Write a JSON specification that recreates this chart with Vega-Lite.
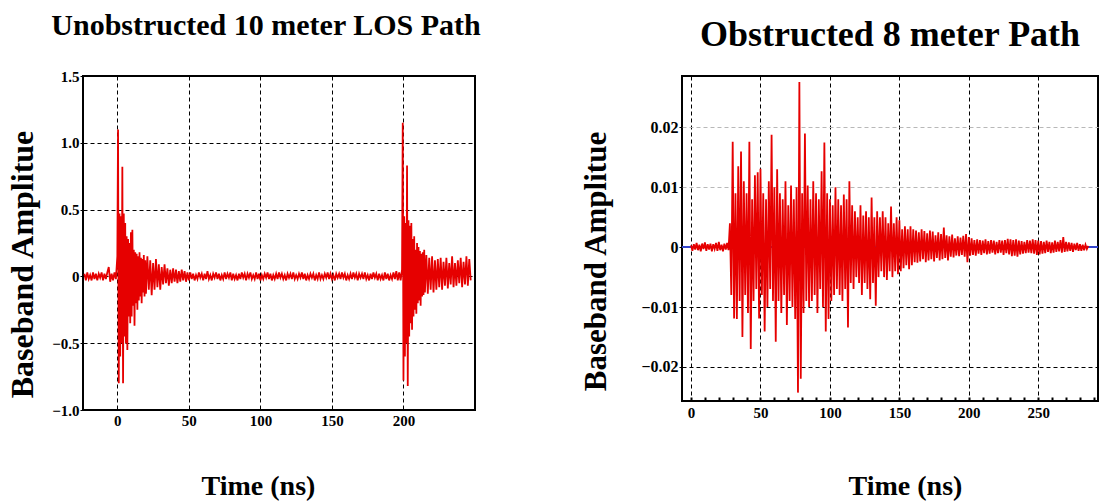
{
  "$schema": "https://vega.github.io/schema/vega-lite/v6.json",
  "background": "white",
  "padding": {"left": 5, "top": 10, "right": 0, "bottom": 0},
  "config": {
    "view": {"stroke": "black", "strokeWidth": 2},
    "font": "Liberation Serif",
    "axis": {
      "labelFont": "Liberation Serif", "labelFontWeight": "bold", "labelFontSize": 15, "labelColor": "black",
      "titleFont": "Liberation Serif", "titleFontWeight": "bold", "titleColor": "black",
      "gridColor": "black", "gridDash": [4, 3], "gridOpacity": 1, "gridWidth": 1,
      "domain": false, "tickColor": "black", "tickSize": 3, "labelPadding": 1
    },
    "title": {"font": "Liberation Serif", "fontWeight": "bold", "color": "black"}
  },
  "bounds": "flush",
  "spacing": 207,
  "hconcat": [
    {
      "title": {"text": "Unobstructed 10 meter LOS Path", "fontSize": 30, "offset": 28, "frame": "group", "dx": -13},
      "width": 392,
      "height": 334,
      "data": {"values": [
        {"t":-23,"v":0.02},{"t":-22,"v":-0.03},{"t":-21,"v":0.03},{"t":-20,"v":-0.02},{"t":-19,"v":0.01},{"t":-18,"v":-0.03},{"t":-17,"v":0.03},{"t":-16,"v":-0.02},{"t":-15,"v":0.02},{"t":-14,"v":-0.03},{"t":-13,"v":0.02},{"t":-12,"v":-0.01},{"t":-11,"v":0.03},{"t":-10,"v":-0.03},{"t":-9,"v":0.02},{"t":-8,"v":-0.02},{"t":-7,"v":0.03},{"t":-6,"v":0.07},{"t":-5,"v":-0.04},{"t":-4,"v":0.02},{"t":-3,"v":-0.03},{"t":-2,"v":0.03},{"t":-1,"v":-0.02},
        {"t":0,"v":0.15},{"t":0.5,"v":1.1},{"t":1,"v":-0.8},{"t":1.5,"v":0.47},{"t":2,"v":-0.6},{"t":2.5,"v":0.45},{"t":3,"v":-0.5},{"t":3.5,"v":0.82},{"t":4,"v":-0.8},{"t":4.5,"v":0.47},{"t":5,"v":-0.45},{"t":5.5,"v":0.4},{"t":6,"v":-0.5},{"t":6.5,"v":0.3},{"t":7,"v":-0.55},{"t":7.5,"v":0.28},{"t":8,"v":-0.3},{"t":8.5,"v":0.25},{"t":9,"v":-0.35},{"t":9.5,"v":0.33},{"t":10,"v":-0.3},{"t":10.5,"v":0.35},{"t":11,"v":-0.22},{"t":11.5,"v":0.2},{"t":12,"v":-0.37},{"t":12.5,"v":0.18},{"t":13,"v":-0.2},{"t":13.5,"v":0.17},{"t":14,"v":-0.25},{"t":14.5,"v":0.15},{"t":15,"v":-0.18},{"t":15.5,"v":0.18},{"t":16,"v":-0.15},{"t":16.5,"v":0.14},{"t":17,"v":-0.2},{"t":17.5,"v":0.13},{"t":18,"v":-0.12},{"t":18.5,"v":0.16},{"t":19,"v":-0.15},{"t":19.5,"v":0.12},{"t":20,"v":-0.13},
        {"t":21,"v":0.15},{"t":22,"v":-0.1},{"t":23,"v":0.12},{"t":24,"v":-0.14},{"t":25,"v":0.1},{"t":26,"v":-0.1},{"t":27,"v":0.13},{"t":28,"v":-0.08},{"t":29,"v":0.09},{"t":30,"v":-0.1},{"t":31,"v":0.07},{"t":32,"v":-0.06},{"t":33,"v":0.09},{"t":34,"v":-0.05},{"t":35,"v":0.06},{"t":36,"v":-0.07},{"t":37,"v":0.05},{"t":38,"v":-0.05},{"t":39,"v":0.06},{"t":40,"v":-0.04},{"t":41,"v":0.05},{"t":42,"v":-0.05},{"t":43,"v":0.04},{"t":44,"v":-0.04},{"t":45,"v":0.05},{"t":46,"v":-0.03},{"t":47,"v":0.04},{"t":48,"v":-0.04},{"t":49,"v":0.03},{"t":50,"v":-0.03},
        {"t":51,"v":0.03},{"t":52,"v":-0.02},{"t":53,"v":0.02},{"t":54,"v":-0.03},{"t":55,"v":0.01},{"t":56,"v":-0.02},{"t":57,"v":0.03},{"t":58,"v":-0.01},{"t":59,"v":0.02},{"t":60,"v":-0.03},{"t":61,"v":0.02},{"t":62,"v":-0.02},{"t":63,"v":0.04},{"t":64,"v":-0.02},{"t":65,"v":0.01},{"t":66,"v":-0.03},{"t":67,"v":0.02},{"t":68,"v":-0.01},{"t":69,"v":0.03},{"t":70,"v":-0.02},{"t":71,"v":0.02},{"t":72,"v":-0.03},{"t":73,"v":0.01},{"t":74,"v":-0.02},{"t":75,"v":0.03},{"t":76,"v":-0.02},{"t":77,"v":0.02},{"t":78,"v":-0.01},{"t":79,"v":0.03},{"t":80,"v":-0.03},
        {"t":81,"v":0.02},{"t":82,"v":-0.02},{"t":83,"v":0.01},{"t":84,"v":-0.03},{"t":85,"v":0.02},{"t":86,"v":-0.02},{"t":87,"v":0.03},{"t":88,"v":-0.01},{"t":89,"v":0.02},{"t":90,"v":-0.03},{"t":91,"v":0.02},{"t":92,"v":-0.01},{"t":93,"v":0.03},{"t":94,"v":-0.02},{"t":95,"v":0.01},{"t":96,"v":-0.02},{"t":97,"v":0.03},{"t":98,"v":-0.02},{"t":99,"v":0.02},{"t":100,"v":-0.03},{"t":101,"v":0.01},{"t":102,"v":-0.02},{"t":103,"v":0.02},{"t":104,"v":-0.01},{"t":105,"v":0.03},{"t":106,"v":-0.02},{"t":107,"v":0.02},{"t":108,"v":-0.03},{"t":109,"v":0.01},{"t":110,"v":-0.02},
        {"t":111,"v":0.02},{"t":112,"v":-0.02},{"t":113,"v":0.03},{"t":114,"v":-0.01},{"t":115,"v":0.02},{"t":116,"v":-0.02},{"t":117,"v":0.01},{"t":118,"v":-0.03},{"t":119,"v":0.02},{"t":120,"v":-0.01},{"t":121,"v":0.02},{"t":122,"v":-0.02},{"t":123,"v":0.03},{"t":124,"v":-0.02},{"t":125,"v":0.01},{"t":126,"v":-0.02},{"t":127,"v":0.02},{"t":128,"v":-0.01},{"t":129,"v":0.03},{"t":130,"v":-0.02},{"t":131,"v":0.02},{"t":132,"v":-0.03},{"t":133,"v":0.01},{"t":134,"v":-0.02},{"t":135,"v":0.02},{"t":136,"v":-0.01},{"t":137,"v":0.02},{"t":138,"v":-0.03},{"t":139,"v":0.01},{"t":140,"v":-0.02},
        {"t":141,"v":0.03},{"t":142,"v":-0.02},{"t":143,"v":0.01},{"t":144,"v":-0.02},{"t":145,"v":0.02},{"t":146,"v":-0.01},{"t":147,"v":0.03},{"t":148,"v":-0.02},{"t":149,"v":0.02},{"t":150,"v":-0.02},{"t":151,"v":0.01},{"t":152,"v":-0.03},{"t":153,"v":0.02},{"t":154,"v":-0.01},{"t":155,"v":0.02},{"t":156,"v":-0.02},{"t":157,"v":0.03},{"t":158,"v":-0.01},{"t":159,"v":0.02},{"t":160,"v":-0.03},{"t":161,"v":0.01},{"t":162,"v":-0.02},{"t":163,"v":0.02},{"t":164,"v":-0.02},{"t":165,"v":0.03},{"t":166,"v":-0.01},{"t":167,"v":0.02},{"t":168,"v":-0.03},{"t":169,"v":0.02},{"t":170,"v":-0.01},
        {"t":171,"v":0.02},{"t":172,"v":-0.02},{"t":173,"v":0.03},{"t":174,"v":-0.02},{"t":175,"v":0.01},{"t":176,"v":-0.03},{"t":177,"v":0.02},{"t":178,"v":-0.02},{"t":179,"v":0.03},{"t":180,"v":-0.01},{"t":181,"v":0.02},{"t":182,"v":-0.03},{"t":183,"v":0.02},{"t":184,"v":-0.02},{"t":185,"v":0.01},{"t":186,"v":-0.03},{"t":187,"v":0.03},{"t":188,"v":-0.02},{"t":189,"v":0.02},{"t":190,"v":-0.03},{"t":191,"v":0.01},{"t":192,"v":-0.02},{"t":193,"v":0.03},{"t":194,"v":-0.02},{"t":195,"v":0.04},{"t":196,"v":-0.03},{"t":197,"v":0.03},{"t":198,"v":-0.03},{"t":199,"v":0.05},
        {"t":199.5,"v":1.15},{"t":200,"v":-0.78},{"t":200.5,"v":0.45},{"t":201,"v":-0.6},{"t":201.5,"v":0.4},{"t":202,"v":-0.5},{"t":202.5,"v":0.83},{"t":203,"v":-0.82},{"t":203.5,"v":0.42},{"t":204,"v":-0.45},{"t":204.5,"v":0.38},{"t":205,"v":-0.35},{"t":205.5,"v":0.4},{"t":206,"v":-0.4},{"t":206.5,"v":0.28},{"t":207,"v":-0.3},{"t":207.5,"v":0.3},{"t":208,"v":-0.25},{"t":208.5,"v":0.2},{"t":209,"v":-0.28},{"t":209.5,"v":0.25},{"t":210,"v":-0.2},{"t":210.5,"v":0.22},{"t":211,"v":-0.18},{"t":211.5,"v":0.19},{"t":212,"v":-0.22},{"t":212.5,"v":0.17},{"t":213,"v":-0.15},{"t":213.5,"v":0.18},{"t":214,"v":-0.14},{"t":214.5,"v":0.2},{"t":215,"v":-0.12},
        {"t":216,"v":0.16},{"t":217,"v":-0.13},{"t":218,"v":0.14},{"t":219,"v":-0.1},{"t":220,"v":0.15},{"t":221,"v":-0.12},{"t":222,"v":0.12},{"t":223,"v":-0.1},{"t":224,"v":0.13},{"t":225,"v":-0.08},{"t":226,"v":0.14},{"t":227,"v":-0.1},{"t":228,"v":0.11},{"t":229,"v":-0.07},{"t":230,"v":0.14},{"t":231,"v":-0.09},{"t":232,"v":0.1},{"t":233,"v":-0.06},{"t":234,"v":0.15},{"t":235,"v":-0.08},{"t":236,"v":0.1},{"t":237,"v":-0.07},{"t":238,"v":0.12},{"t":239,"v":-0.05},{"t":240,"v":0.14},{"t":241,"v":-0.08},{"t":242,"v":0.11},{"t":243,"v":-0.06},{"t":244,"v":0.15},{"t":245,"v":-0.07},{"t":246,"v":0.13},{"t":247,"v":-0.03}
      ]},
      "mark": {"type": "line", "color": "#e60000", "strokeWidth": 1.8, "clip": true},
      "encoding": {
        "x": {"field": "t", "type": "quantitative", "scale": {"domain": [-24, 250], "nice": false, "zero": false},
              "axis": {"values": [0, 50, 100, 150, 200], "title": "Time (ns)", "titleFontSize": 28, "titlePadding": 44, "titleX": 175, "labelPadding": 3, "tickSize": 0}},
        "y": {"field": "v", "type": "quantitative", "scale": {"domain": [-1, 1.5], "nice": false},
              "axis": {"values": [-1, -0.5, 0, 0.5, 1, 1.5], "labelExpr": "datum.value == 0 ? '0' : format(datum.value, '.1f')", "title": "Baseband Amplitue", "titleFontSize": 32, "titlePadding": 12, "titleY": 188}}
      }
    },
    {
      "title": {"text": "Obstructed 8 meter Path", "fontSize": 36, "offset": 22, "frame": "group"},
      "width": 416,
      "height": 325,
      "data": {"values": [
        {"t":0,"v":0.0003},{"t":1,"v":-0.0006},{"t":2,"v":0.0005},{"t":3,"v":-0.0004},{"t":4,"v":0.0007},{"t":5,"v":-0.0005},{"t":6,"v":0.0004},{"t":7,"v":-0.0007},{"t":8,"v":0.0006},{"t":9,"v":-0.0003},{"t":10,"v":0.0008},{"t":11,"v":-0.0006},{"t":12,"v":0.0005},{"t":13,"v":-0.0004},{"t":14,"v":0.0006},{"t":15,"v":-0.0007},{"t":16,"v":0.0005},{"t":17,"v":-0.0003},{"t":18,"v":0.0007},{"t":19,"v":-0.0006},{"t":20,"v":0.0009},{"t":21,"v":-0.0005},{"t":22,"v":0.0004},{"t":23,"v":-0.0007},{"t":24,"v":0.0006},{"t":25,"v":-0.0004},{"t":26,"v":0.0007},{"t":27,"v":-0.0005},
        {"t":28,"v":0.004},{"t":29,"v":-0.008},{"t":30,"v":0.0176},{"t":31,"v":-0.0119},{"t":32,"v":0.009},{"t":33,"v":-0.012},{"t":34,"v":0.0135},{"t":35,"v":-0.009},{"t":36,"v":0.016},{"t":37,"v":-0.015},{"t":38,"v":0.011},{"t":39,"v":-0.008},{"t":40,"v":0.009},{"t":41,"v":-0.011},{"t":42,"v":0.0176},{"t":43,"v":-0.017},{"t":44,"v":0.008},{"t":45,"v":-0.009},{"t":46,"v":0.012},{"t":47,"v":-0.007},{"t":48,"v":0.0125},{"t":49,"v":-0.0119},{"t":50,"v":0.0131},{"t":51,"v":-0.008},{"t":52,"v":0.009},{"t":53,"v":-0.0141},{"t":54,"v":0.008},{"t":55,"v":-0.01},{"t":56,"v":0.011},{"t":57,"v":-0.007},
        {"t":58,"v":0.0188},{"t":59,"v":-0.009},{"t":60,"v":0.01},{"t":61,"v":-0.0158},{"t":62,"v":0.013},{"t":63,"v":-0.009},{"t":64,"v":0.009},{"t":65,"v":-0.011},{"t":66,"v":0.008},{"t":67,"v":-0.008},{"t":68,"v":0.011},{"t":69,"v":-0.013},{"t":70,"v":0.007},{"t":71,"v":-0.009},{"t":72,"v":0.0103},{"t":73,"v":-0.01},{"t":74,"v":0.008},{"t":75,"v":-0.012},{"t":76,"v":0.01},{"t":77,"v":-0.0243},{"t":78,"v":0.0276},{"t":79,"v":-0.022},{"t":80,"v":0.009},{"t":81,"v":-0.011},{"t":82,"v":0.019},{"t":83,"v":-0.009},{"t":84,"v":0.0103},{"t":85,"v":-0.01},{"t":86,"v":0.008},{"t":87,"v":-0.009},
        {"t":88,"v":0.011},{"t":89,"v":-0.008},{"t":90,"v":0.009},{"t":91,"v":-0.011},{"t":92,"v":0.008},{"t":93,"v":-0.007},{"t":94,"v":0.0127},{"t":95,"v":-0.01},{"t":96,"v":0.0175},{"t":97,"v":-0.0141},{"t":98,"v":0.009},{"t":99,"v":-0.012},{"t":100,"v":0.008},{"t":101,"v":-0.009},{"t":102,"v":0.007},{"t":103,"v":-0.008},{"t":104,"v":0.01},{"t":105,"v":-0.007},{"t":106,"v":0.008},{"t":107,"v":-0.008},{"t":108,"v":0.007},{"t":109,"v":-0.009},{"t":110,"v":0.0088},{"t":111,"v":-0.007},{"t":112,"v":0.008},{"t":113,"v":-0.0134},{"t":114,"v":0.011},{"t":115,"v":-0.006},{"t":116,"v":0.007},{"t":117,"v":-0.007},
        {"t":118,"v":0.006},{"t":119,"v":-0.005},{"t":120,"v":0.005},{"t":121,"v":-0.006},{"t":122,"v":0.007},{"t":123,"v":-0.008},{"t":124,"v":0.0053},{"t":125,"v":-0.006},{"t":126,"v":0.006},{"t":127,"v":-0.007},{"t":128,"v":0.005},{"t":129,"v":-0.0087},{"t":130,"v":0.0083},{"t":131,"v":-0.006},{"t":132,"v":0.005},{"t":133,"v":-0.0098},{"t":134,"v":0.006},{"t":135,"v":-0.005},{"t":136,"v":0.005},{"t":137,"v":-0.004},{"t":138,"v":0.006},{"t":139,"v":-0.005},{"t":140,"v":0.005},{"t":141,"v":-0.0055},{"t":142,"v":0.004},{"t":143,"v":-0.004},{"t":144,"v":0.0068},{"t":145,"v":-0.005},{"t":146,"v":0.004},{"t":147,"v":-0.004},
        {"t":148,"v":0.005},{"t":149,"v":-0.0045},{"t":150,"v":0.0045},{"t":151,"v":-0.004},{"t":152,"v":0.003},{"t":153,"v":-0.0035},{"t":154,"v":0.0035},{"t":155,"v":-0.003},{"t":156,"v":0.003},{"t":157,"v":-0.0037},{"t":158,"v":0.0035},{"t":159,"v":-0.003},{"t":160,"v":0.003},{"t":161,"v":-0.0025},{"t":162,"v":0.0028},{"t":163,"v":-0.0026},{"t":164,"v":0.0025},{"t":165,"v":-0.0024},{"t":166,"v":0.003},{"t":167,"v":-0.002},{"t":168,"v":0.0027},{"t":169,"v":-0.0025},{"t":170,"v":0.0023},{"t":171,"v":-0.0022},{"t":172,"v":0.0028},{"t":173,"v":-0.002},{"t":174,"v":0.0026},{"t":175,"v":-0.0024},{"t":176,"v":0.002},{"t":177,"v":-0.0018},
        {"t":178,"v":0.0025},{"t":179,"v":-0.0022},{"t":180,"v":0.0022},{"t":181,"v":-0.002},{"t":182,"v":0.0033},{"t":183,"v":-0.0018},{"t":184,"v":0.002},{"t":185,"v":-0.0022},{"t":186,"v":0.0018},{"t":187,"v":-0.0016},{"t":188,"v":0.0021},{"t":189,"v":-0.0017},{"t":190,"v":0.0015},{"t":191,"v":-0.0014},{"t":192,"v":0.0018},{"t":193,"v":-0.0015},{"t":194,"v":0.0016},{"t":195,"v":-0.0013},{"t":196,"v":0.0019},{"t":197,"v":-0.0016},{"t":198,"v":0.0022},{"t":199,"v":-0.0025},{"t":200,"v":0.0017},{"t":201,"v":-0.0014},{"t":202,"v":0.0015},{"t":203,"v":-0.0013},{"t":204,"v":0.0012},{"t":205,"v":-0.0014},{"t":206,"v":0.0013},{"t":207,"v":-0.0011},
        {"t":208,"v":0.0012},{"t":209,"v":-0.0013},{"t":210,"v":0.0011},{"t":211,"v":-0.001},{"t":212,"v":0.0013},{"t":213,"v":-0.0012},{"t":214,"v":0.001},{"t":215,"v":-0.0011},{"t":216,"v":0.0012},{"t":217,"v":-0.0009},{"t":218,"v":0.0011},{"t":219,"v":-0.0012},{"t":220,"v":0.0009},{"t":221,"v":-0.001},{"t":222,"v":0.0012},{"t":223,"v":-0.0009},{"t":224,"v":0.0011},{"t":225,"v":-0.0013},{"t":226,"v":0.0012},{"t":227,"v":-0.001},{"t":228,"v":0.0014},{"t":229,"v":-0.0012},{"t":230,"v":0.0013},{"t":231,"v":-0.0015},{"t":232,"v":0.0012},{"t":233,"v":-0.0014},{"t":234,"v":0.0013},{"t":235,"v":-0.0016},{"t":236,"v":0.0011},{"t":237,"v":-0.0012},
        {"t":238,"v":0.001},{"t":239,"v":-0.0011},{"t":240,"v":0.0009},{"t":241,"v":-0.001},{"t":242,"v":0.0012},{"t":243,"v":-0.0009},{"t":244,"v":0.0011},{"t":245,"v":-0.001},{"t":246,"v":0.0013},{"t":247,"v":-0.0011},{"t":248,"v":0.0012},{"t":249,"v":-0.0013},{"t":250,"v":0.0011},{"t":251,"v":-0.0012},{"t":252,"v":0.001},{"t":253,"v":-0.0011},{"t":254,"v":0.0009},{"t":255,"v":-0.001},{"t":256,"v":0.0011},{"t":257,"v":-0.0008},{"t":258,"v":0.0009},{"t":259,"v":-0.001},{"t":260,"v":0.0008},{"t":261,"v":-0.0009},{"t":262,"v":0.0011},{"t":263,"v":-0.0008},{"t":264,"v":0.0009},{"t":265,"v":-0.0007},{"t":266,"v":0.0012},{"t":267,"v":-0.0009},
        {"t":268,"v":0.0017},{"t":269,"v":-0.0008},{"t":270,"v":0.0009},{"t":271,"v":-0.0007},{"t":272,"v":0.0008},{"t":273,"v":-0.0006},{"t":274,"v":0.0007},{"t":275,"v":-0.0008},{"t":276,"v":0.0006},{"t":277,"v":-0.0005},{"t":278,"v":0.0007},{"t":279,"v":-0.0006},{"t":280,"v":0.0005},{"t":281,"v":-0.0006},{"t":282,"v":0.0004},{"t":283,"v":-0.0005},{"t":284,"v":0.0004},{"t":285,"v":-0.0003},{"t":286,"v":0.0002}
      ]},
      "layer": [
        {
          "mark": {"type": "rule", "color": "#3344cc", "strokeWidth": 1.5},
          "encoding": {"y": {"datum": 0, "type": "quantitative"}}
        },
        {
          "mark": {"type": "line", "color": "#e60000", "strokeWidth": 1.8, "clip": true},
          "encoding": {
            "x": {"field": "t", "type": "quantitative", "scale": {"domain": [-6.5, 293], "nice": false, "zero": false},
                  "axis": {"values": [0, 10, 20, 30, 40, 50, 60, 70, 80, 90, 100, 110, 120, 130, 140, 150, 160, 170, 180, 190, 200, 210, 220, 230, 240, 250, 260, 270, 280, 290],
                           "labelExpr": "datum.value % 50 == 0 ? datum.label : ''",
                           "gridOpacity": {"expr": "datum.value % 50 == 0 ? 1 : 0"},
                           "tickSize": -4, "tickWidth": 2,
                           "title": "Time (ns)", "titleFontSize": 28, "titlePadding": 52, "titleX": 223, "labelPadding": 8}},
            "y": {"field": "v", "type": "quantitative", "scale": {"domain": [-0.0257, 0.0286], "nice": false, "zero": false},
                  "axis": {"values": [-0.02, -0.01, 0, 0.01, 0.02], "labelExpr": "datum.value == 0 ? '0' : format(datum.value, '.2f')", "labelFontSize": 16, "title": "Baseband Amplitue", "titleFontSize": 31, "titlePadding": 28, "titleY": 185,
                           "grid": true,
                           "gridColor": {"expr": "datum.value > 0 ? '#b8b8b8' : '#000000'"}}}
          }
        }
      ]
    }
  ]
}
